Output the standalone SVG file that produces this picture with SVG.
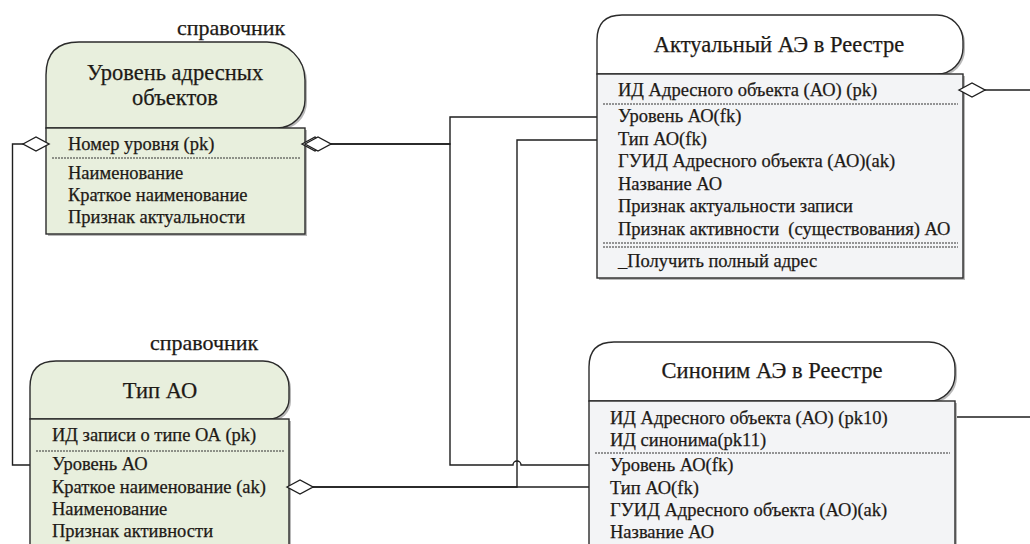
<svg xmlns="http://www.w3.org/2000/svg" width="1030" height="544" viewBox="0 0 1030 544">
<defs>
  <path id="diamond" d="M0,0 L13,-7 L26,0 L13,7 Z"/>
</defs>

<g id="connectors" stroke="#1e1e1e" stroke-width="1.4" fill="none">
  <path d="M330,144 H450 V117 H597"/>
  <path d="M330,144 H450 V465 H513 A4,4 0 0 1 521,465 H589"/>
  <path d="M312,487 H517 V140 H597"/>
  <path d="M312,487 H589"/>
  <path d="M25,144 H12.5 V465 H30"/>
  <path d="M984,90 H1030"/>
  <path d="M950,417 H1030"/>
</g>

<g id="node-level">
  <path fill="#b8b8b8" d="M48,130 V77 Q48,44 81,44 H269 A38,38 0 0 1 307,82 V102 A28,28 0 0 1 279,130 Z"/>
  <rect fill="#b8b8b8" x="48" y="130" width="259" height="106"/>
  <path fill="#e8efdd" stroke="#2b2b2b" stroke-width="1.4" d="M46,128 V75 Q46,42 79,42 H267 A38,38 0 0 1 305,80 V100 A28,28 0 0 1 277,128 Z"/>
  <rect fill="#e8efdd" stroke="#2b2b2b" stroke-width="1.4" x="46" y="128" width="259" height="106"/>
  <line stroke="#333" stroke-width="1" stroke-dasharray="2 1" x1="52" y1="158" x2="300" y2="158"/>
  <g font-family="Liberation Serif" fill="#1e1a16" stroke="#1e1a16" stroke-width="0.25">
    <text x="177" y="35" font-size="22">справочник</text>
    <text x="175" y="80" font-size="22.5" text-anchor="middle">Уровень адресных</text>
    <text x="175" y="105" font-size="22.5" text-anchor="middle">объектов</text>
    <g font-size="18.5">
      <text x="68" y="150">Номер уровня (pk)</text>
      <text x="68" y="179">Наименование</text>
      <text x="68" y="201">Краткое наименование</text>
      <text x="68" y="223">Признак актуальности</text>
    </g>
  </g>
</g>

<g id="node-type">
  <path fill="#b8b8b8" d="M32,421 V389 Q32,363 58,363 H265 A26,26 0 0 1 291,389 V401 A20,20 0 0 1 271,421 Z"/>
  <rect fill="#b8b8b8" x="32" y="421" width="259" height="140"/>
  <path fill="#e8efdd" stroke="#2b2b2b" stroke-width="1.4" d="M30,419 V387 Q30,361 56,361 H263 A26,26 0 0 1 289,387 V399 A20,20 0 0 1 269,419 Z"/>
  <rect fill="#e8efdd" stroke="#2b2b2b" stroke-width="1.4" x="30" y="419" width="259" height="140"/>
  <line stroke="#333" stroke-width="1" stroke-dasharray="2 1" x1="36" y1="451" x2="284" y2="451"/>
  <g font-family="Liberation Serif" fill="#1e1a16" stroke="#1e1a16" stroke-width="0.25">
    <text x="150" y="350" font-size="22">справочник</text>
    <text x="160" y="398" font-size="22.5" text-anchor="middle">Тип АО</text>
    <g font-size="18.5">
      <text x="52" y="441">ИД записи о типе ОА (pk)</text>
      <text x="52" y="470">Уровень АО</text>
      <text x="52" y="493">Краткое наименование (ak)</text>
      <text x="52" y="515">Наименование</text>
      <text x="52" y="537">Признак активности</text>
    </g>
  </g>
</g>

<g id="node-actual">
  <path fill="#b8b8b8" d="M599,76 V42 Q599,17 624,17 H939 A26,26 0 0 1 965,43 V50 A26,26 0 0 1 939,76 Z"/>
  <rect fill="#b8b8b8" x="599" y="76" width="366" height="204"/>
  <path fill="#ffffff" stroke="#2b2b2b" stroke-width="1.4" d="M597,74 V40 Q597,15 622,15 H937 A26,26 0 0 1 963,41 V48 A26,26 0 0 1 937,74 Z"/>
  <rect fill="#f3f4f6" stroke="#2b2b2b" stroke-width="1.4" x="597" y="74" width="366" height="204"/>
  <g stroke="#333" stroke-width="1" stroke-dasharray="2 1">
    <line x1="603" y1="104" x2="958" y2="104"/>
    <line x1="603" y1="243" x2="958" y2="243"/>
    <line x1="603" y1="247" x2="958" y2="247"/>
  </g>
  <g font-family="Liberation Serif" fill="#1e1a16" stroke="#1e1a16" stroke-width="0.25">
    <text x="779" y="52" font-size="22.5" text-anchor="middle">Актуальный АЭ в Реестре</text>
    <g font-size="18.5">
      <text x="618" y="96">ИД Адресного объекта (АО) (pk)</text>
      <text x="618" y="122">Уровень АО(fk)</text>
      <text x="618" y="144.5">Тип АО(fk)</text>
      <text x="618" y="167">ГУИД Адресного объекта (АО)(ak)</text>
      <text x="618" y="189.5">Название АО</text>
      <text x="618" y="212">Признак актуальности записи</text>
      <text x="618" y="234.5" xml:space="preserve">Признак активности  (существования) АО</text>
      <text x="618" y="267">_Получить полный адрес</text>
    </g>
  </g>
</g>

<g id="node-synonym">
  <path fill="#b8b8b8" d="M591,403 V369 Q591,344 616,344 H931 A26,26 0 0 1 957,370 V377 A26,26 0 0 1 931,403 Z"/>
  <rect fill="#b8b8b8" x="591" y="403" width="366" height="160"/>
  <path fill="#ffffff" stroke="#2b2b2b" stroke-width="1.4" d="M589,401 V367 Q589,342 614,342 H929 A26,26 0 0 1 955,368 V375 A26,26 0 0 1 929,401 Z"/>
  <rect fill="#f3f4f6" stroke="#2b2b2b" stroke-width="1.4" x="589" y="401" width="366" height="160"/>
  <line stroke="#333" stroke-width="1" stroke-dasharray="2 1" x1="595" y1="453" x2="950" y2="453"/>
  <g font-family="Liberation Serif" fill="#1e1a16" stroke="#1e1a16" stroke-width="0.25">
    <text x="772" y="378" font-size="22.5" text-anchor="middle">Синоним АЭ в Реестре</text>
    <g font-size="18.5">
      <text x="610" y="424">ИД Адресного объекта (АО) (pk10)</text>
      <text x="610" y="446">ИД синонима(pk11)</text>
      <text x="610" y="471">Уровень АО(fk)</text>
      <text x="610" y="494">Тип АО(fk)</text>
      <text x="610" y="516">ГУИД Адресного объекта (АО)(ak)</text>
      <text x="610" y="538">Название АО</text>
    </g>
  </g>
</g>

<g id="ends" fill="#ffffff" stroke="#1e1e1e" stroke-width="1.4">
  <use href="#diamond" x="302" y="144"/>
  <use href="#diamond" x="305" y="144"/>
  <use href="#diamond" x="287" y="487"/>
  <use href="#diamond" x="23" y="144"/>
  <use href="#diamond" x="959" y="90"/>
</g>
</svg>
